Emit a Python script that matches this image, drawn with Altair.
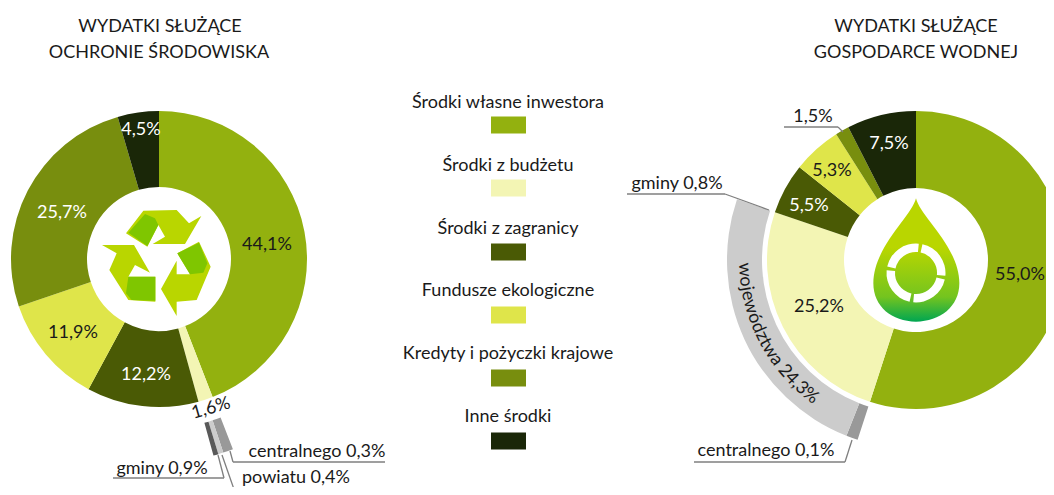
import math
import altair as alt
import pandas as pd

OFF = 8
FONT = "Lato"
TXT = "#1a1a1a"
C_MAIN = "#93b10f"
C_PALE = "#f3f5b4"
C_DARK = "#4a5a05"
C_YEL = "#dfe54a"
C_OLV = "#788e0e"
C_BLK = "#1a2708"

# donut values
left_vals = [44.1, 1.6, 12.2, 11.9, 25.7, 4.5]
right_vals = [55.0, 25.2, 5.5, 5.3, 1.5, 7.5]
colors = [C_MAIN, C_PALE, C_DARK, C_YEL, C_OLV, C_BLK]
names = ["Środki własne inwestora", "Środki z budżetu", "Środki z zagranicy",
         "Fundusze ekologiczne", "Kredyty i pożyczki krajowe", "Inne środki"]

# outer detail rings, as drawn (start %, end %, colour)
left_ring_start = [44.1, 44.9, 45.3]
left_ring_end = [44.9, 45.3, 45.7]
left_ring_col = ["#999999", "#cccccc", "#595959"]
right_ring_start = [55.0, 56.0]
right_ring_end = [56.0, 80.2]
right_ring_col = ["#999999", "#cccccc"]

# droplet ring segments
drop_start = [3.5, 28.5, 53.5, 78.5]
drop_end = [26.5, 51.5, 76.5, 101.5]

# text: string, x, y, colour, angle, size
labels = [
    ("WYDATKI SŁUŻĄCE", 160, 25, TXT, 0),
    ("OCHRONIE ŚRODOWISKA", 159, 51, TXT, 0),
    ("WYDATKI SŁUŻĄCE", 916, 25, TXT, 0),
    ("GOSPODARCE WODNEJ", 916, 51, TXT, 0),
    ("44,1%", 267, 243, TXT, 0),
    ("25,7%", 62, 211, "#ffffff", 0),
    ("4,5%", 141, 128, "#ffffff", 0),
    ("11,9%", 73, 331, TXT, 0),
    ("12,2%", 146, 373, "#ffffff", 0),
    ("1,6%", 211, 407, TXT, 344),
    ("55,0%", 1020, 273, TXT, 0),
    ("25,2%", 819, 305, TXT, 0),
    ("5,5%", 809, 204, "#ffffff", 0),
    ("5,3%", 832, 169, TXT, 0),
    ("7,5%", 889, 142, "#ffffff", 0),
    ("1,5%", 813, 115, TXT, 0),
    ("gminy 0,8%", 677, 182, TXT, 0),
    ("centralnego 0,1%", 766, 449, TXT, 0),
    ("gminy 0,9%", 162, 467, TXT, 0),
    ("centralnego 0,3%", 317, 450, TXT, 0),
    ("powiatu 0,4%", 296, 476, TXT, 0),
]
legend_text_y = [101, 164, 227, 289, 352, 415]
legend_box_y = [125, 188, 252, 315, 378, 441]

# leader polylines
leaders = [
    [(230, 451), (233, 462), (385, 462)],
    [(113, 478), (224, 478), (218, 455)],
    [(222, 455), (236, 495)],
    [(784, 127), (838, 127), (843, 132)],
    [(627, 194), (725, 194), (769, 210)],
    [(694, 462), (845, 462), (852, 440)],
]

LCX, LCY, RCX, RCY = 159, 259, 916, 260

def arcs(cx, cy, r0, r1, starts, ends, cols):
    return [dict(cx=cx - OFF, cy=cy - OFF, r=r1, r2=r0, t0=a, t1=b, color=c)
            for a, b, c in zip(starts, ends, cols)]

def cum(vals):
    out, s = [], 0.0
    for v in vals:
        out.append(s)
        s += v
    return out, out[1:] + [100.0]

ls, le = cum(left_vals)
rs, re_ = cum(right_vals)
arc_rows = (
    arcs(LCX, LCY, 72, 148, ls, le, colors)
    + arcs(RCX, RCY, 72, 149, rs, re_, colors)
    + arcs(LCX, LCY, 170, 204, left_ring_start, left_ring_end, left_ring_col)
    + arcs(RCX, RCY, 154, 189, right_ring_start, right_ring_end, right_ring_col)
)

arc = alt.Chart(pd.DataFrame(arc_rows)).mark_arc(stroke=None).encode(
    x=alt.X("cx:Q", scale=None),
    y=alt.Y("cy:Q", scale=None),
    radius=alt.Radius("r:Q", scale=None),
    radius2=alt.Radius2("r2:Q"),
    theta=alt.Theta("t0:Q", scale=alt.Scale(domain=[0, 100], range=[0, 2 * math.pi])),
    theta2=alt.Theta2("t1:Q"),
    color=alt.Color("color:N", scale=None),
)

# legend swatches
box = alt.Chart(pd.DataFrame({
    "x": [491 - OFF] * 6, "x2": [526 - OFF] * 6,
    "y": [v - 8.5 - OFF for v in legend_box_y],
    "y2": [v + 8.5 - OFF for v in legend_box_y],
    "color": colors,
})).mark_rect().encode(
    x=alt.X("x:Q", scale=None), x2="x2:Q",
    y=alt.Y("y:Q", scale=None), y2="y2:Q",
    color=alt.Color("color:N", scale=None),
)

# leaders
seg = []
for pts in leaders:
    for (a, b), (c, d) in zip(pts, pts[1:]):
        seg.append(dict(x=a - OFF, y=b - OFF, x2=c - OFF, y2=d - OFF))
rules = alt.Chart(pd.DataFrame(seg)).mark_rule(color="#7f7f7f", strokeWidth=1.3).encode(
    x=alt.X("x:Q", scale=None), x2="x2:Q",
    y=alt.Y("y:Q", scale=None), y2="y2:Q",
)

# text
rows = [dict(t=t, x=x - OFF, y=y - OFF + 1.5, c=c, a=a) for t, x, y, c, a in labels]
rows += [dict(t=n, x=508 - OFF, y=y - OFF + 1.5, c=TXT, a=0) for n, y in zip(names, legend_text_y)]
text = alt.Chart(pd.DataFrame(rows)).mark_text(font=FONT, fontSize=18, align="center", baseline="middle").encode(
    x=alt.X("x:Q", scale=None),
    y=alt.Y("y:Q", scale=None),
    text="t:N",
    color=alt.Color("c:N", scale=None),
    angle=alt.Angle("a:Q", scale=None),
)

# curved label
curve = "województwa 24,3%"
cw = {"w": .72, "o": .56, "j": .25, "e": .51, "ó": .56, "d": .56, "z": .43, "t": .35, "a": .50,
      " ": .22, "2": .53, "4": .53, ",": .25, "3": .53, "%": .75, "ź": .43}
total = sum(cw[c] for c in curve)
th0, th1, rad = 269.0, 215.5, 172.0
pos = 0.0
crow = []
for ch in curve:
    mid = pos + cw[ch] / 2
    th = th0 + (th1 - th0) * mid / total
    pos += cw[ch]
    rr = math.radians(th)
    crow.append(dict(t=ch, x=RCX - OFF + rad * math.sin(rr), y=RCY - OFF - rad * math.cos(rr), a=th - 180))
curved = alt.Chart(pd.DataFrame(crow)).mark_text(font=FONT, fontSize=18, align="center", baseline="middle", color=TXT).encode(
    x=alt.X("x:Q", scale=None),
    y=alt.Y("y:Q", scale=None),
    text="t:N",
    angle=alt.Angle("a:Q", scale=None),
)

# icons: outlines, in 3x-zoom coordinates
SCALE = 100  # symbol box edge in pixels

def poly(points, ox, oy, cx, cy):
    u = [((x / 3 + ox - cx) / (SCALE / 2), (y / 3 + oy - cy) / (SCALE / 2)) for x, y in points]
    return "M" + "L".join(f"{a:.3f},{b:.3f}" for a, b in u) + "Z"

rec_light = [
    [(378,430),(430,362),(530,360),(567,400),(604,378),(555,462),(458,462),(495,440),(475,405),(442,470)],
    [(597,455),(632,530),(590,630),(530,635),(530,678),(483,597),(530,512),(530,553),(570,553),(532,490)],
    [(306,465),(402,465),(450,548),(405,525),(385,560),(466,560),(466,635),(385,630),(328,540),(350,490)],
]
rec_dark = [
    [(385,428),(435,372),(465,385),(475,405),(442,468)],
    [(532,490),(597,458),(622,520),(610,548),(570,553)],
    [(385,560),(466,560),(466,632),(395,630),(378,610)],
]
rec_l_path = "".join(poly(p, 0, 90, LCX, LCY) for p in rec_light)
rec_d_path = "".join(poly(p, 0, 90, LCX, LCY) for p in rec_dark)

def U(x, y):
    return f"{(x/3+620-RCX)/(SCALE/2):.3f},{(y/3+90-RCY)/(SCALE/2):.3f}"

drop_path = (f"M{U(888,325)}C{U(900,380)} {U(1018,470)} {U(1018,580)}"
             f"C{U(1018,650)} {U(960,695)} {U(888,695)}"
             f"C{U(816,695)} {U(760,650)} {U(760,580)}"
             f"C{U(760,470)} {U(875,380)} {U(888,325)}Z")

def sym(path, cx, cy, fill):
    return alt.Chart(pd.DataFrame({"x": [cx - OFF], "y": [cy - OFF]})).mark_point(
        shape=path, size=SCALE * SCALE, filled=True, fill=fill, opacity=1, strokeWidth=0
    ).encode(x=alt.X("x:Q", scale=None), y=alt.Y("y:Q", scale=None))

grad = alt.Gradient(gradient="linear", x1=0, y1=0, x2=0, y2=1, stops=[
    alt.GradientStop(color="#b9d600", offset=0),
    alt.GradientStop(color="#b9d600", offset=0.4),
    alt.GradientStop(color="#74c41f", offset=0.8),
    alt.GradientStop(color="#00a651", offset=1),
])

drop_ring = alt.Chart(pd.DataFrame(
    arcs(RCX, 273, 21, 29.5, drop_start, drop_end, ["#ffffff"] * 4))).mark_arc(stroke=None).encode(
    x=alt.X("cx:Q", scale=None),
    y=alt.Y("cy:Q", scale=None),
    radius=alt.Radius("r:Q", scale=None),
    radius2=alt.Radius2("r2:Q"),
    theta=alt.Theta("t0:Q", scale=alt.Scale(domain=[0, 100], range=[0, 2 * math.pi])),
    theta2=alt.Theta2("t1:Q"),
    color=alt.Color("color:N", scale=None),
)

chart = alt.layer(
    arc, box, rules,
    sym(rec_l_path, LCX, LCY, "#b9d600"),
    sym(rec_d_path, LCX, LCY, "#7fc600"),
    sym(drop_path, RCX, RCY, grad),
    drop_ring,
    text, curved,
).properties(width=1038, height=479, padding=0, autosize=alt.AutoSizeParams(type="none")
).configure_view(stroke=None)

chart.save("out.html", embed_options={"renderer": "svg", "actions": False})
